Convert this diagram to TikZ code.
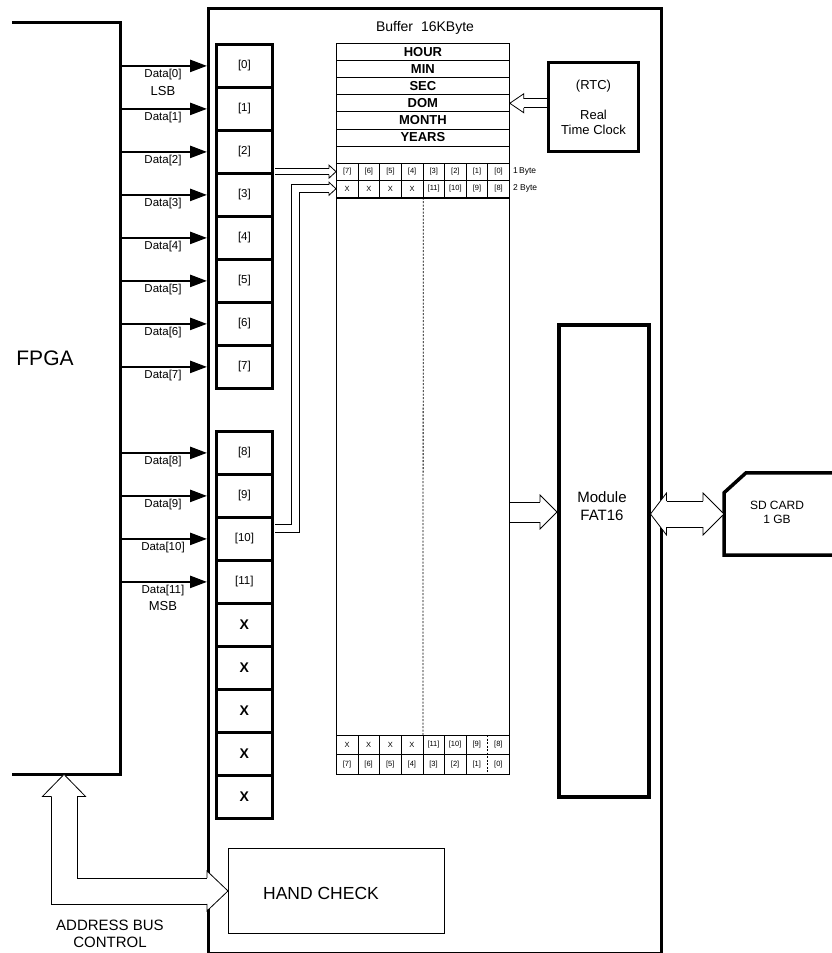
\documentclass[tikz,border=0pt]{standalone}
\usepackage{fontspec}
\setmainfont{Liberation Sans}
\usetikzlibrary{arrows.meta,calc}
\newcommand{\myfs}[1]{\fontsize{#1}{#1}\selectfont}
\newcommand{\blockhead}[5]{\filldraw[fill=white,draw=black,line width=0.8pt,line join=miter,shift={(#1)},rotate=#2] (-#3,-#5) -- (-#3,-#4) -- (0,0) -- (-#3,#4) -- (-#3,#5);}
\tikzset{
  cell/.style={draw, line width=2.8pt, minimum width=56pt, minimum height=43pt, inner sep=0pt, anchor=north west, font=\myfs{11.5}},
  xcell/.style={cell, font=\bfseries\myfs{14}},
  rowbox/.style={draw, line width=0.8pt, minimum width=173pt, minimum height=17.1pt, inner sep=0pt, anchor=north west, font=\bfseries\myfs{13}},
  bytecell/.style={draw, line width=0.8pt, minimum width=21.625pt, minimum height=17.1pt, inner sep=0pt, anchor=north west, font=\myfs{7.5}},
  bytebare/.style={minimum width=21.625pt, minimum height=#1, inner sep=0pt, anchor=north west, font=\myfs{7.5}},
  dataarrow/.style={line width=2.5pt, -{Triangle[length=17pt,width=12pt]}},
  datalabel/.style={font=\myfs{11.5}, inner sep=0pt},
  shaftline/.style={draw=black, line width=0.8pt, line join=miter},
  thickbox/.style={draw, line width=3pt, inner sep=0pt, anchor=north west},
}
\begin{document}
\begin{tikzpicture}[x=1pt,y=-1pt]
\useasboundingbox (0,0) rectangle (832,953);
% FPGA
\node[minimum width=108pt, minimum height=752pt, inner sep=0pt, anchor=north west] (fpga) at (12,22) {};
\draw[line width=3pt] (fpga.north west) -- (fpga.north east) -- (fpga.south east) -- (fpga.south west);
\node[font=\myfs{21}] (fpgatext) at (45,358) {FPGA};
% main frame
\node[thickbox, minimum width=453pt, minimum height=945pt] (frame) at (207,7) {};
\node[font=\myfs{14}] (title) at (425,28) {Buffer\hspace{4pt} 16KByte};
% register cells
\foreach \i in {0,...,7}{\node[cell] (c\i) at (215,{43+43*\i}) {[\i]};}
\foreach \i in {8,...,11}{\node[cell] (c\i) at (215,{430+43*(\i-8)}) {[\i]};}
\foreach \j in {0,...,4}{\node[xcell] (xb\j) at (215,{602+43*\j}) {X};}
% data arrows
\foreach \i in {0,...,11}{
  \draw[dataarrow] (fpga.east |- c\i.west) -- (frame.west |- c\i.west);
  \node[datalabel] (dl\i) at ($(c\i.west)+(-52,9)$) {Data[\i]};
}
\node[font=\myfs{13}] (lsb) at ($(c0.west)+(-52,25)$) {LSB};
\node[font=\myfs{13}] (msb) at ($(c11.west)+(-52,24)$) {MSB};
% buffer column
\node[draw, line width=0.8pt, minimum width=173pt, minimum height=731pt, inner sep=0pt, anchor=north west] (bufcol) at (336,43) {};
\node[rowbox] (hour) at (336,43) {HOUR};
\node[rowbox] (min) at (336,60.1) {MIN};
\node[rowbox] (sec) at (336,77.2) {SEC};
\node[rowbox] (dom) at (336,94.3) {DOM};
\node[rowbox] (month) at (336,111.4) {MONTH};
\node[rowbox] (years) at (336,128.5) {YEARS};
\node[rowbox] (blankrow) at (336,145.6) {};
\foreach \j in {0,...,7}{
  \pgfmathtruncatemacro\ka{7-\j}
  \pgfmathtruncatemacro\kb{15-\j}
  \node[bytecell] (r1-\j) at ({336+21.625*\j},162.7) {[\ka]};
  \node[bytecell] (r2-\j) at ({336+21.625*\j},179.8) {\ifnum\j<4 X\else[\kb]\fi};
  \node[bytebare=19pt] (r3-\j) at ({336+21.625*\j},735) {\ifnum\j<4 X\else[\kb]\fi};
  \node[bytebare=20pt] (r4-\j) at ({336+21.625*\j},754) {[\ka]};
}
\draw[line width=1.8pt] (r2-0.south west) -- (r2-7.south east);
\draw[line width=0.8pt] (r3-0.north west) rectangle (r4-7.south east);
\draw[line width=0.8pt] (r3-0.south west) -- (r3-7.south east);
\foreach \j in {0,...,5}{\draw[line width=0.8pt] (r3-\j.north east) -- (r4-\j.south east);}
\draw[line width=0.8pt, dash pattern=on 2pt off 1.5pt] (r3-6.north east) -- (r4-6.south east);
\draw[line width=0.8pt, dash pattern=on 2pt off 1.5pt] (r2-3.south east) -- (r3-3.north east);
\node[anchor=west, font=\myfs{8.5}, inner sep=0pt] (lb1) at ($(r1-7.east)+(3,0)$) {1\,Byte};
\node[anchor=west, font=\myfs{8.5}, inner sep=0pt] (lb2) at ($(r2-7.east)+(3,0)$) {2 Byte};
% RTC
\node[thickbox, minimum width=90pt, minimum height=89pt, align=center, font=\fontsize{13}{15}\selectfont] (rtc) at (547,61) {(RTC)\\[15pt]Real\\Time Clock};
% FAT16
\node[thickbox, line width=3.5pt, minimum width=90pt, minimum height=472pt] (fat) at (557,323) {};
\node[align=center, font=\fontsize{15}{18}\selectfont] (fatlabel) at (602,506) {Module\\FAT16};
% SD card
\node[minimum width=110pt, minimum height=82pt, inner sep=0pt, anchor=west] (sd) at (724,514) {};
\draw[line width=3.5pt, line join=miter] (sd.north east) -- ($(sd.north west)+(22,0)$) -- ($(sd.north west)+(0,20)$) -- (sd.south west) -- (sd.south east);
\node[align=center, font=\fontsize{12}{14}\selectfont] (sdlabel) at (777,512) {SD CARD\\1 GB};
% HAND CHECK
\node[draw, line width=0.9pt, minimum width=216pt, minimum height=85pt, inner sep=0pt, anchor=north west] (hand) at (228,848) {};
\node[font=\myfs{17.5}] (handlabel) at (321,893) {HAND CHECK};
\node[align=center, font=\fontsize{15}{17}\selectfont] (abus) at (110,934) {ADDRESS BUS\\CONTROL};
% block arrows
% RTC -> DOM
\coordinate (rtcin) at (rtc.west |- dom.east);
\coordinate (domb) at ($(dom.east)+(14,0)$);
\draw[shaftline] ($(rtcin)+(0,-4.5)$) -- ($(domb)+(0,-4.5)$) ($(rtcin)+(0,4.5)$) -- ($(domb)+(0,4.5)$);
\blockhead{dom.east}{180}{14}{9.5}{4.5}
% [2] -> 1 Byte
\coordinate (c2out) at ($(c2.east |- r1-0.west)+(1.5,0)$);
\coordinate (r1b) at ($(r1-0.west)+(-7,0)$);
\draw[shaftline] ($(c2out)+(0,-3)$) -- ($(r1b)+(0,-3)$) ($(c2out)+(0,3)$) -- ($(r1b)+(0,3)$);
\blockhead{r1-0.west}{0}{7}{6.5}{3}
% [10] -> 2 Byte
\coordinate (s10) at ($(c10.east)+(1.5,-11)$);
\coordinate (e10) at ($(r2-0.west)+(-7,0)$);
\coordinate (k10a) at ($(s10)+(16.5,0)$);
\coordinate (k10b) at ($(s10)+(24.5,0)$);
\coordinate (q10a) at (k10a |- e10);
\coordinate (q10b) at (k10b |- e10);
\draw[shaftline] ($(s10)+(0,-4)$) -| ($(q10a)+(0,-4)$) -- ($(e10)+(0,-4)$);
\draw[shaftline] ($(s10)+(0,4)$) -| ($(q10b)+(0,4)$) -- ($(e10)+(0,4)$);
\blockhead{r2-0.west}{0}{7}{6.5}{4}
% buffer -> FAT16
\coordinate (fatin) at ($(fat.north west)+(0,189)$);
\coordinate (bufout) at (bufcol.east |- fatin);
\coordinate (fatb) at ($(fatin)+(-17,0)$);
\draw[shaftline] ($(bufout)+(0,-10)$) -- ($(fatb)+(0,-10)$) ($(bufout)+(0,10)$) -- ($(fatb)+(0,10)$);
\blockhead{fatin}{0}{17}{17}{10}
% FAT16 <-> SD
\coordinate (fatout) at (fat.east |- sd.west);
\coordinate (fatoutb) at ($(fatout)+(16,0)$);
\coordinate (sdb) at ($(sd.west)+(-21,0)$);
\draw[shaftline] ($(fatoutb)+(0,-13)$) -- ($(sdb)+(0,-13)$) ($(fatoutb)+(0,13)$) -- ($(sdb)+(0,13)$);
\blockhead{fatout}{180}{16}{21}{13}
\blockhead{sd.west}{0}{21}{21}{13}
% address bus
\coordinate (abtip) at ($(fpga.south west)+(52,0)$);
\coordinate (abb) at ($(abtip)+(0,22)$);
\coordinate (handb) at ($(hand.west)+(-21,0)$);
\draw[shaftline] ($(abb)+(-13,0)$) |- ($(handb)+(0,13)$);
\draw[shaftline] ($(abb)+(13,0)$) |- ($(handb)+(0,-13)$);
\blockhead{abtip}{90}{22}{21.5}{13}
\blockhead{hand.west}{0}{21}{20}{13}
\end{tikzpicture}
\end{document}
